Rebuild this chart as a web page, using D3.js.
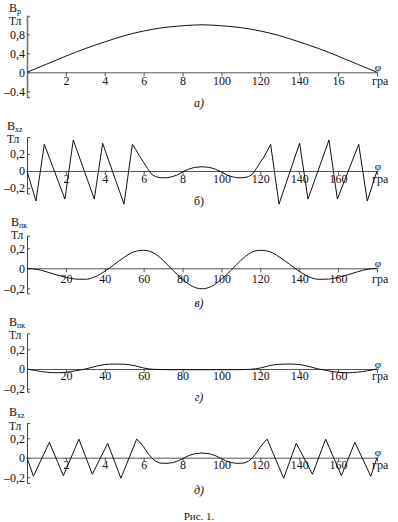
<!DOCTYPE html>
<html>
<head>
<meta charset="utf-8">
<script src="https://cdn.jsdelivr.net/npm/d3@7"></script>
<style>
  body { margin: 0; background: #fff; }
  svg text { font-family: "Liberation Serif", "Times New Roman", serif; fill: #111; }
</style>
</head>
<body>
<script>
// ----- data -----
// а) B_p over phi, every 10 degrees
const phiA = [0, 10, 20, 30, 40, 50, 60, 70, 80, 90, 100, 110, 120, 130, 140, 150, 160, 170, 180];
const bpA  = [0, 0.17, 0.34, 0.5, 0.64, 0.77, 0.87, 0.94, 0.98, 1.0, 0.98, 0.94, 0.87, 0.77, 0.64, 0.5, 0.34, 0.17, 0];

// б) B_xz (sawtooth + bump in the middle)
const phiB = [0, 4.6, 8.9, 19.5, 23.8, 34.6, 38.9, 49.9, 54.2, 56, 58, 59.8, 62, 64.1, 66, 68.4, 72, 74, 77, 80, 83, 86, 90,
              94, 97, 100, 103, 106, 108, 111.6, 114, 115.9, 118, 120.2, 122, 125.3, 129.6, 140.2, 144.5, 155.3, 159.6, 170.6, 175, 180];
const bxzB = [0, -0.353, 0.314, -0.33, 0.365, -0.33, 0.326, -0.39, 0.314, 0.25, 0.17, 0.109, 0.03, -0.039, -0.065, -0.079, -0.08, -0.07, -0.05, -0.01, 0.02, 0.042, 0.05,
              0.042, 0.02, -0.01, -0.05, -0.07, -0.08, -0.079, -0.065, -0.039, 0.03, 0.109, 0.17, 0.314, -0.39, 0.326, -0.33, 0.365, -0.33, 0.314, -0.353, 0];

// в) B_pk, every 5 degrees
const phiC = [0, 5, 10, 15, 20, 25, 30, 35, 40, 45, 50, 55, 60, 65, 70, 75, 80, 85, 90,
              95, 100, 105, 110, 115, 120, 125, 130, 135, 140, 145, 150, 155, 160, 165, 170, 175, 180];
const bpkC = [0, -0.01, -0.035, -0.065, -0.09, -0.108, -0.11, -0.085, -0.03, 0.04, 0.11, 0.165, 0.18, 0.155, 0.08, -0.02, -0.11, -0.18, -0.205,
              -0.18, -0.11, -0.02, 0.08, 0.155, 0.18, 0.165, 0.11, 0.04, -0.03, -0.085, -0.11, -0.108, -0.09, -0.065, -0.035, -0.01, 0];

// г) B_pk (small), every 5 degrees
const bpkD = [0, -0.018, -0.032, -0.038, -0.033, -0.018, 0, 0.025, 0.045, 0.05, 0.048, 0.035, 0.01, -0.003, -0.006, -0.007, -0.007, -0.007, -0.007,
              -0.007, -0.007, -0.007, -0.006, -0.003, 0.01, 0.035, 0.048, 0.05, 0.045, 0.025, 0, -0.018, -0.033, -0.038, -0.032, -0.018, 0];

// д) B_xz (triangle wave + bump)
const phiE = [0, 3.3, 11.5, 18.7, 26.7, 33.6, 41.5, 48.3, 56.4, 58, 60, 62, 64.1, 66, 68.4, 72, 75, 78, 80, 83, 86, 90,
              94, 97, 100, 102, 105, 108, 111.6, 114, 116, 118, 120, 122, 123.5, 132, 138.5, 146.8, 153.6, 161.7, 168.6, 176.8, 180];
const bxzE = [0, -0.19, 0.158, -0.185, 0.19, -0.17, 0.148, -0.21, 0.19, 0.16, 0.11, 0.05, 0, -0.035, -0.055, -0.058, -0.05, -0.03, -0.01, 0.02, 0.04, 0.048,
              0.04, 0.02, -0.01, -0.03, -0.05, -0.058, -0.055, -0.035, 0, 0.05, 0.11, 0.16, 0.19, -0.21, 0.148, -0.17, 0.19, -0.185, 0.158, -0.19, 0];

// tick values / labels
const xTicks = [20, 40, 60, 80, 100, 120, 140, 160];
const xLabelsA = ['2', '4', '6', '8', '100', '120', '140', '16'];
const xLabelsShort = ['2', '4', '6', '8', '100', '120', '140', '160'];
const xLabelsFull = ['20', '40', '60', '80', '100', '120', '140', '160'];
const yTicksA = [-0.4, 0, 0.4, 0.8];
const yLabelsA = ['\u20130.4', '0', '0,4', '0,8'];
const yTicksSmall = [-0.2, 0, 0.2];
const yLabelsSmall = ['\u20130,2', '0', '0,2'];

// ----- layout of the five panels (pixels) -----
const panels = [
  { phi: phiA, val: bpA, top: 16, bottom: 97, zero: 72.3, ppu: 47.5, curve: d3.curveMonotoneX,
    yT: yTicksA, yL: yLabelsA, xL: xLabelsA, pad: 0.5, sub: 'р', nameX: 9, nameY: 12, unitY: 25,
    cap: 'а)', capItalic: true, capY: 107, axisW: 1.6, axisC: '#777' },
  { phi: phiB, val: bxzB, top: 137, bottom: 193.5, zero: 171, ppu: 85, curve: d3.curveLinear,
    yT: yTicksSmall, yL: yLabelsSmall, xL: xLabelsShort, pad: -0.5, sub: 'xz', nameX: 7, nameY: 130, unitY: 143,
    cap: 'б)', capItalic: false, capY: 205, axisW: 1, axisC: '#444' },
  { phi: phiC, val: bpkC, top: 235.7, bottom: 293.3, zero: 268.3, ppu: 100, curve: d3.curveMonotoneX,
    yT: yTicksSmall, yL: yLabelsSmall, xL: xLabelsFull, pad: 1.7, sub: 'пк', nameX: 11, nameY: 226, unitY: 239,
    cap: 'в)', capItalic: true, capY: 307, axisW: 1, axisC: '#444' },
  { phi: phiC, val: bpkD, top: 333.3, bottom: 391.7, zero: 369, ppu: 99, curve: d3.curveMonotoneX,
    yT: yTicksSmall, yL: yLabelsSmall, xL: xLabelsFull, pad: -2, sub: 'пк', nameX: 9, nameY: 326, unitY: 339,
    cap: 'г)', capItalic: true, capY: 401, axisW: 1, axisC: '#444' },
  { phi: phiE, val: bxzE, top: 423, bottom: 483, zero: 457.7, ppu: 97.5, curve: d3.curveLinear,
    yT: yTicksSmall, yL: yLabelsSmall, xL: xLabelsShort, pad: -1.7, sub: 'xz', nameX: 9, nameY: 416, unitY: 430,
    cap: 'д)', capItalic: true, capY: 494, axisW: 1, axisC: '#444' }
];

const W = 398, H = 522;
const svg = d3.select('body').append('svg')
  .attr('width', W)
  .attr('height', H);

const x = d3.scaleLinear().domain([0, 180]).range([27, 377]);

panels.forEach(p => {
  // y scale: domain taken from where the axis line starts / ends
  const y = d3.scaleLinear()
    .domain([-(p.bottom - p.zero) / p.ppu, (p.zero - p.top) / p.ppu])
    .range([p.bottom, p.top]);

  const g = svg.append('g');

  // x axis along zero line
  const xAxis = g.append('g')
    .attr('transform', `translate(0, ${y(0)})`)
    .call(d3.axisBottom(x)
      .tickValues(xTicks)
      .tickSizeOuter(0)
      .tickSize(4)
      .tickPadding(p.pad)
      .tickFormat((d, i) => p.xL[i]));
  xAxis.select('.domain').attr('stroke', '#555').attr('stroke-width', 1);
  xAxis.selectAll('.tick line').attr('stroke', '#555');
  xAxis.selectAll('text').attr('font-size', 12);

  // y axis
  const yAxis = g.append('g')
    .attr('transform', `translate(${x(0)}, 0)`)
    .call(d3.axisLeft(y)
      .tickValues(p.yT)
      .tickSizeOuter(0)
      .tickSize(-3)
      .tickPadding(2)
      .tickFormat((d, i) => p.yL[i]));
  yAxis.select('.domain').attr('stroke', p.axisC).attr('stroke-width', p.axisW);
  yAxis.selectAll('.tick line').attr('stroke', '#555');
  yAxis.selectAll('text').attr('font-size', 12);

  // curve
  const line = d3.line()
    .x((d, i) => x(p.phi[i]))
    .y(d => y(d))
    .curve(p.curve);
  g.append('path')
    .datum(p.val)
    .attr('d', line)
    .attr('fill', 'none')
    .attr('stroke', '#111')
    .attr('stroke-width', 1);

  // axis names
  const name = g.append('text')
    .attr('x', p.nameX)
    .attr('y', p.nameY)
    .attr('font-size', 12);
  name.append('tspan').text('B');
  name.append('tspan').attr('font-size', 8).attr('dy', 1.5).text(p.sub);

  g.append('text')
    .attr('x', p.nameX)
    .attr('y', p.unitY)
    .attr('font-size', 11.5)
    .text('Тл');

  g.append('text')
    .attr('x', x(180) + 1)
    .attr('y', y(0) - 1.5)
    .attr('text-anchor', 'middle')
    .attr('font-size', 11)
    .text('φ');

  g.append('text')
    .attr('x', 372)
    .attr('y', y(0) + 4 + p.pad)
    .attr('dy', '0.71em')
    .attr('font-size', 12)
    .text('гра');

  // caption
  g.append('text')
    .attr('x', 199)
    .attr('y', p.capY)
    .attr('text-anchor', 'middle')
    .attr('font-size', 12)
    .attr('font-style', p.capItalic ? 'italic' : 'normal')
    .text(p.cap);
});

svg.append('text')
  .attr('x', 199)
  .attr('y', 520)
  .attr('text-anchor', 'middle')
  .attr('font-size', 11)
  .text('Рис. 1.');
</script>
</body>
</html>
